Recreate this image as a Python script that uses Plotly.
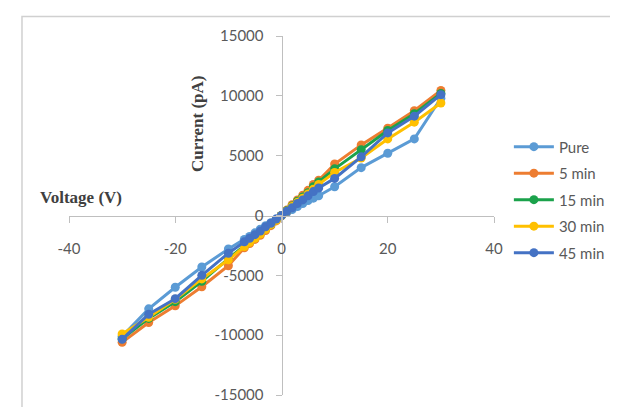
import plotly.graph_objects as go

voltage = [-30, -25, -20, -15, -10, -7, -6, -5, -4, -3, -2, -1, 0, 1, 2, 3, 4, 5, 6, 7, 10, 15, 20, 25, 30]

pure = [-10100, -7800, -6000, -4300, -2800, -2000, -1750, -1450, -1150, -850, -600, -300, 0, 250, 500, 750, 1000, 1250, 1450, 1650, 2400, 4000, 5200, 6400, 9800]
min5 = [-10600, -8950, -7550, -5950, -4200, -2700, -2350, -2000, -1650, -1250, -850, -450, 0, 450, 900, 1300, 1700, 2100, 2600, 2950, 4300, 5900, 7300, 8750, 10450]
min15 = [-10300, -8600, -7200, -5500, -3600, -2500, -2150, -1800, -1450, -1100, -750, -350, 0, 400, 800, 1200, 1550, 1900, 2400, 2800, 3900, 5500, 7100, 8500, 10200]
min30 = [-9900, -8500, -7000, -5300, -3700, -2600, -2250, -1900, -1550, -1150, -750, -400, 0, 350, 750, 1100, 1450, 1800, 2200, 2600, 3600, 4800, 6400, 7800, 9400]
min45 = [-10350, -8250, -6950, -5000, -3150, -2200, -1900, -1600, -1300, -950, -650, -300, 0, 350, 650, 1000, 1300, 1650, 2000, 2300, 3100, 4900, 6900, 8300, 10100]

series_names = ["Pure", "5 min", "15 min", "30 min", "45 min"]
series_values = [pure, min5, min15, min30, min45]
series_colors = ["#5B9BD5", "#ED7D31", "#1BA24B", "#FFC000", "#4472C4"]

x_ticks = [-40, -20, 0, 20, 40]
y_ticks = [-15000, -10000, -5000, 0, 5000, 10000, 15000]

fig = go.Figure()
for name, vals, col in zip(series_names, series_values, series_colors):
    fig.add_trace(go.Scatter(
        x=voltage, y=vals, name=name, mode="lines+markers",
        line=dict(color=col, width=3),
        marker=dict(color=col, size=9, symbol="circle"),
        legendgroup=name,
    ))

axis_gray = "#BFBFBF"
tick_font = dict(family="Lato", size=15, color="#595959")

fig.update_layout(
    width=618, height=407,
    margin=dict(l=61, r=132, t=28, b=12),
    paper_bgcolor="white", plot_bgcolor="white",
    showlegend=True,
    legend=dict(
        x=1.035, y=0.737, xanchor="left", yanchor="top",
        font=dict(family="Lato", size=15, color="#595959"),
        tracegroupgap=4, itemwidth=40,
        bgcolor="rgba(0,0,0,0)",
    ),
    xaxis=dict(
        range=[-40, 40], tickvals=x_ticks, ticktext=[str(v) for v in x_ticks],
        showgrid=False, zeroline=False, showline=True, linecolor=axis_gray, linewidth=1,
        ticks="outside", ticklen=6, tickcolor=axis_gray, ticklabelstandoff=13,
        anchor="free", position=0.5, tickfont=tick_font,
    ),
    yaxis=dict(
        range=[-15000, 15000], tickvals=y_ticks, ticktext=[str(v) for v in y_ticks],
        showgrid=False, zeroline=False, showline=True, linecolor=axis_gray, linewidth=1,
        ticks="outside", ticklen=6, tickcolor=axis_gray, ticklabelstandoff=9,
        anchor="free", position=0.5, tickfont=tick_font,
    ),
    shapes=[dict(type="rect", xref="paper", yref="paper",
                 x0=-0.1106, x1=1.2988, y0=-0.04, y1=1.0545,
                 line=dict(color="#D0D0D0", width=1.5), fillcolor="rgba(0,0,0,0)", layer="below")],
    annotations=[
        dict(text="<b>Voltage (V)</b>", xref="paper", yref="paper",
             x=(73 - 61) / 425, y=(395 - 193) / 367, xanchor="center", yanchor="middle",
             showarrow=False, font=dict(family="Liberation Serif", size=17, color="#404040")),
        dict(text="<b>Current (pA)</b>", xref="paper", yref="paper",
             x=(189 - 61) / 425, y=(395 - 118) / 367, xanchor="center", yanchor="middle",
             textangle=-90, showarrow=False,
             font=dict(family="Liberation Serif", size=17, color="#404040")),
    ],
)

fig.write_html("out.html")
